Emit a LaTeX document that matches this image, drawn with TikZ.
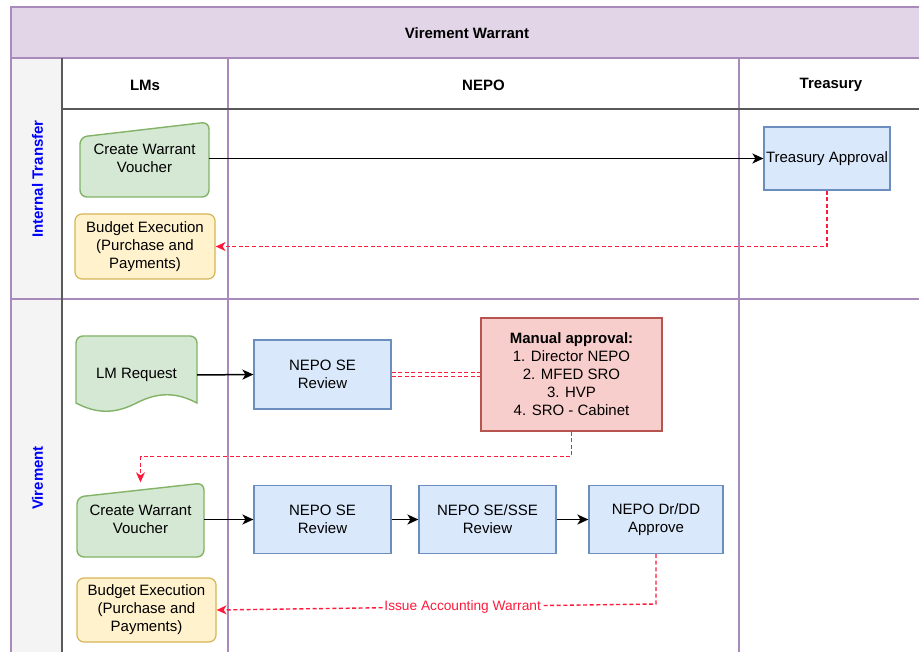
\documentclass[tikz,border=0pt]{standalone}
\usepackage{fontspec}
\setmainfont{Liberation Sans}
\usetikzlibrary{arrows.meta}

\definecolor{poolfill}{HTML}{E1D5E7}
\definecolor{poolline}{HTML}{A88BBB}
\definecolor{lanegray}{HTML}{F4F4F4}
\definecolor{darkline}{HTML}{5A5A5A}
\definecolor{greenfill}{HTML}{D5E8D4}
\definecolor{greenline}{HTML}{82B366}
\definecolor{yellowfill}{HTML}{FFF2CC}
\definecolor{yellowline}{HTML}{D6B656}
\definecolor{bluefill}{HTML}{DAE8FC}
\definecolor{blueline}{HTML}{6C8EBF}
\definecolor{redfill}{HTML}{F8CECC}
\definecolor{redline}{HTML}{B85450}
\definecolor{warnred}{HTML}{FF1A3C}
\definecolor{lanetext}{HTML}{0000FF}

\tikzset{
  poolstroke/.style={draw=poolline, line width=1.1pt},
  darkstroke/.style={draw=darkline, line width=1.2pt},
  shapegreen/.style={draw=greenline, fill=greenfill, line width=1.4pt},
  textonly/.style={align=center, inner sep=0pt},
  procbox/.style={draw=blueline, fill=bluefill, line width=1.2pt, align=center,
    inner sep=0pt, minimum width=137pt, minimum height=68pt},
  budgetbox/.style={draw=yellowline, fill=yellowfill, line width=1.2pt, rounded corners=7pt,
    align=center, inner sep=0pt, minimum width=140pt, minimum height=65pt},
  approvalbox/.style={draw=redline, fill=redfill, line width=1.2pt, align=center,
    inner sep=0pt, minimum width=181pt, minimum height=113pt},
  headtext/.style={font=\fontsize{15}{18}\selectfont\bfseries},
  lanelabel/.style={font=\fontsize{15}{18}\selectfont\bfseries, text=lanetext, rotate=90},
  flow/.style={color=black, line width=1.5pt, -{Stealth[length=11pt,width=10pt,inset=3pt]}},
  backflow/.style={color=warnred, line width=1.4pt, dash pattern=on 4pt off 2.6pt,
    -{Stealth[length=10pt,width=9pt,inset=3pt]}},
  % a double dashed link: red outer stroke with a white core
  linkpair/.style={draw=warnred, line width=1.4pt, double=white, double distance=3pt,
    dash pattern=on 4pt off 2.6pt},
}

\begin{document}
\begin{tikzpicture}[x=1pt, y=-1pt, font=\fontsize{15}{18}\selectfont]
\useasboundingbox (0,0) rectangle (919,652);
\clip (0,0) rectangle (919,652);
\fill[white] (0,0) rectangle (919,652);

% pool header and lane label column
\fill[poolfill] (11,7) rectangle (930,58);
\fill[lanegray] (11,58) rectangle (62,670);

% pool and lane borders
\draw[poolstroke] (11,670) -- (11,7) -- (930,7);
\draw[poolstroke] (11,58) -- (930,58);
\draw[poolstroke] (11,299) -- (930,299);
\draw[poolstroke] (228,58) -- (228,670);
\draw[poolstroke] (739,58) -- (739,670);
\draw[darkstroke] (62,58) -- (62,670);
\draw[darkstroke] (62,109) -- (930,109);

% titles
\node[headtext] (title) at (467,33) {Virement Warrant};
\node[headtext] (hlms) at (145,85) {LMs};
\node[headtext] (hnepo) at (483.5,85) {NEPO};
\node[headtext] (htreasury) at (831,85) {Treasury};
\node[lanelabel] (lane1) at (37.5,179) {Internal Transfer};
\node[lanelabel] (lane2) at (37.5,478) {Virement};

% manual-input shapes (slanted top)
\draw[shapegreen, rounded corners=7pt] (80,197) -- (80,137) -- (209,122) -- (209,197) -- cycle;
\draw[shapegreen, rounded corners=7pt] (77,557) -- (77,497) -- (204,483) -- (204,557) -- cycle;
% document shape (wavy bottom)
\draw[shapegreen] (76,403) [rounded corners=7pt] -- (76,336) -- (197,336) [sharp corners] -- (197,403)
  .. controls (176,392) and (158,392) .. (136.5,403)
  .. controls (115,414) and (97,414) .. (76,403) -- cycle;

% internal transfer lane
\node[textonly, minimum width=129pt, minimum height=75pt] (cwv1) at (144.5,158.5) {Create Warrant\\Voucher};
\node[budgetbox] (be1) at (145,246.5) {Budget Execution\\(Purchase and\\Payments)};
\node[procbox, minimum width=126pt, minimum height=63pt] (ta) at (827,158.5) {Treasury Approval};

% virement lane
\node[textonly, minimum width=121pt, minimum height=76pt] (lmr) at (136.5,375) {LM Request};
\node[procbox, minimum height=69pt] (nse1) at (322.5,374.5) {NEPO SE\\Review};
\node[approvalbox] (ma) at (571.5,374.5) {\textbf{Manual approval:}\\1. Director NEPO\\2. MFED SRO\\3. HVP\\4. SRO - Cabinet};
\node[textonly, minimum width=127pt, minimum height=74pt] (cwv2) at (140.5,519.5) {Create Warrant\\Voucher};
\node[procbox] (nse2) at (322.5,519.5) {NEPO SE\\Review};
\node[procbox] (nsse) at (487.5,519.5) {NEPO SE/SSE\\Review};
\node[procbox, minimum width=134pt] (ndd) at (656,519.5) {NEPO Dr/DD\\Approve};
\node[budgetbox, minimum width=139pt, minimum height=64pt] (be2) at (146.5,610) {Budget Execution\\(Purchase and\\Payments)};

% connectors
\draw[flow] (cwv1.east) -- (ta.west);
\draw[backflow] (ta.south) |- (be1.east);
\draw[flow] (lmr.east) -- (nse1.west);
\draw[linkpair] (nse1.east) -- (ma.west);
\draw[backflow] (ma.south) -- ++(0,25) -| (cwv2.north);
\draw[flow] (cwv2.east) -- (nse2.west);
\draw[flow] (nse2.east) -- (nsse.west);
\draw[flow] (nsse.east) -- (ndd.west);
\coordinate (ddturn) at (656,604);
\draw[backflow] (ndd.south) -- (ddturn) -- node[pos=0.44, fill=white, inner sep=1pt,
  text=warnred, font=\fontsize{13.7}{16}\selectfont] (iaw) {Issue Accounting Warrant} (be2.east);
\end{tikzpicture}
\end{document}
